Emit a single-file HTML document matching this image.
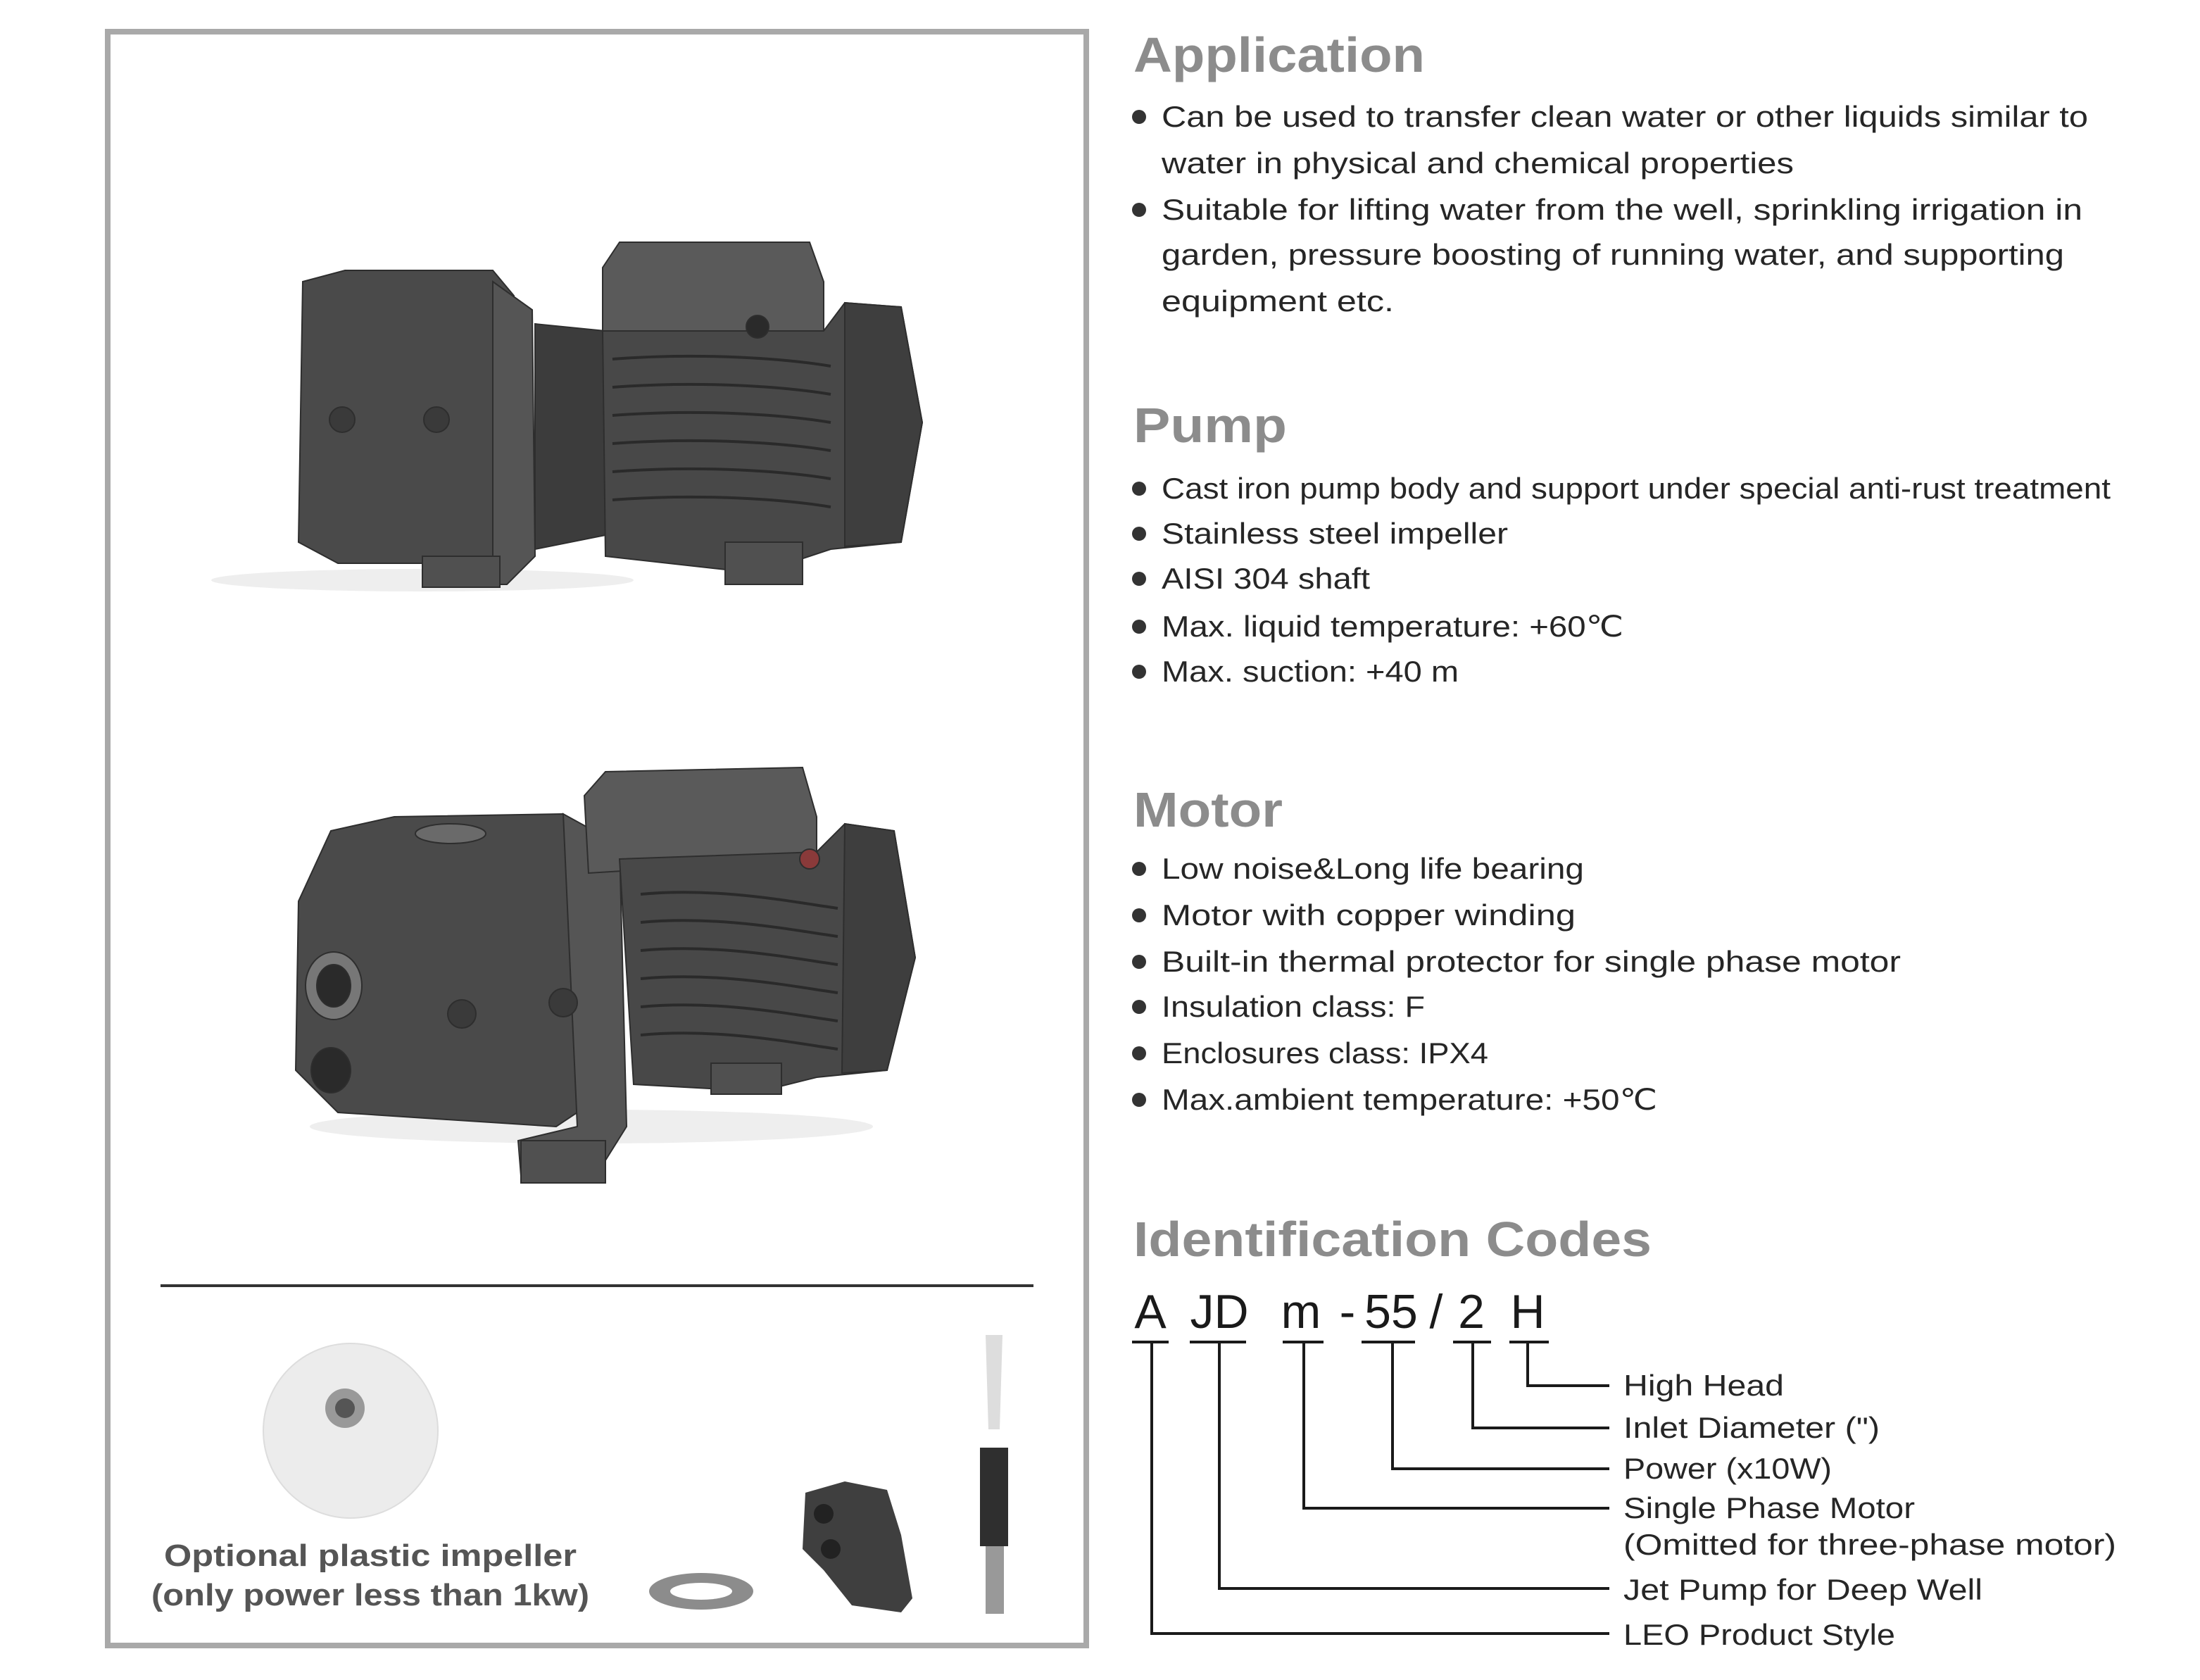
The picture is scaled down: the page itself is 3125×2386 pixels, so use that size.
<!DOCTYPE html>
<html><head><meta charset="utf-8"><style>
html,body{margin:0;padding:0;background:#fff;}
svg{display:block;}
text{font-family:"Liberation Sans",sans-serif;}
.h{fill:#8c8c8c;font-size:35px;font-weight:bold;}
.b{fill:#262626;font-size:21px;}
.l{fill:#262626;font-size:21px;}
.c{fill:#1a1a1a;font-size:34px;}
</style></head><body>
<svg width="3125" height="2386" viewBox="0 0 1562.5 1193" xmlns="http://www.w3.org/2000/svg">
<rect x="0" y="0" width="1562.5" height="1193" fill="#fff"/>
<!-- frame -->
<rect x="76.5" y="22.5" width="695" height="1146" fill="#fff" stroke="#a9a9a9" stroke-width="4"/>
<line x1="114" y1="913" x2="734" y2="913" stroke="#333" stroke-width="2"/>

<!-- pump 1 -->
<g fill="#4a4a4a" stroke="#2e2e2e" stroke-width="1">
<ellipse cx="300" cy="412" rx="150" ry="8" fill="#eee" stroke="none"/>
<path d="M215,200 L245,192 L350,192 L365,210 L370,390 L355,400 L240,400 L212,385 Z"/>
<path d="M350,200 L378,220 L380,395 L360,415 L300,415 L300,400 L350,398 Z" fill="#555"/>
<path d="M380,230 L430,235 L430,380 L380,390 Z" fill="#3c3c3c"/>
<path d="M428,190 L440,172 L575,172 L585,200 L585,235 L428,240 Z" fill="#5a5a5a"/>
<path d="M428,235 L585,235 L600,215 L640,218 L655,300 L640,385 L590,390 L560,400 L520,405 L430,395 Z" fill="#484848"/>
<path d="M600,215 L640,218 L655,300 L640,385 L600,388 Z" fill="#3e3e3e"/>
<rect x="515" y="385" width="55" height="30" fill="#505050"/>
<rect x="300" y="395" width="55" height="22" fill="#505050"/>
<g stroke="#2a2a2a" stroke-width="2" fill="none">
<path d="M435,255 C500,250 560,255 590,260"/><path d="M435,275 C500,270 560,275 590,280"/><path d="M435,295 C500,290 560,295 590,300"/><path d="M435,315 C500,310 560,315 590,320"/><path d="M435,335 C500,330 560,335 590,340"/><path d="M435,355 C500,350 560,355 590,360"/>
</g>
<circle cx="538" cy="232" r="8" fill="#2a2a2a"/>
<circle cx="243" cy="298" r="9" fill="#3a3a3a"/><circle cx="310" cy="298" r="9" fill="#3a3a3a"/>
</g>

<!-- pump 2 -->
<g fill="#4a4a4a" stroke="#2e2e2e" stroke-width="1">
<ellipse cx="420" cy="800" rx="200" ry="12" fill="#eee" stroke="none"/>
<path d="M235,590 L280,580 L400,578 L420,610 L425,780 L395,800 L240,790 L210,760 L212,640 Z"/>
<path d="M400,578 L440,600 L445,800 L420,840 L370,835 L368,810 L410,800 Z" fill="#555"/>
<path d="M415,565 L430,548 L570,545 L580,580 L580,610 L418,620 Z" fill="#5a5a5a"/>
<path d="M440,610 L580,605 L600,585 L635,590 L650,680 L630,760 L580,765 L540,775 L450,770 Z" fill="#484848"/>
<path d="M600,585 L635,590 L650,680 L630,760 L598,762 Z" fill="#3e3e3e"/>
<rect x="505" y="755" width="50" height="22" fill="#505050"/>
<rect x="370" y="810" width="60" height="30" fill="#505050"/>
<g stroke="#2a2a2a" stroke-width="2" fill="none">
<path d="M455,635 C510,630 560,640 595,645"/><path d="M455,655 C510,650 560,660 595,665"/><path d="M455,675 C510,670 560,680 595,685"/><path d="M455,695 C510,690 560,700 595,705"/><path d="M455,715 C510,710 560,720 595,725"/><path d="M455,735 C510,730 560,740 595,745"/>
</g>
<ellipse cx="237" cy="700" rx="20" ry="24" fill="#777"/><ellipse cx="237" cy="700" rx="12" ry="15" fill="#2a2a2a"/>
<ellipse cx="235" cy="760" rx="14" ry="16" fill="#2a2a2a"/>
<circle cx="328" cy="720" r="10" fill="#3a3a3a"/><circle cx="400" cy="712" r="10" fill="#3a3a3a"/>
<circle cx="575" cy="610" r="7" fill="#8a3a3a"/>
<ellipse cx="320" cy="592" rx="25" ry="7" fill="#6a6a6a"/>
</g>

<!-- accessories -->
<circle cx="249" cy="1016" r="62" fill="#ececec" stroke="#ddd"/>
<circle cx="245" cy="1000" r="14" fill="#999"/><circle cx="245" cy="1000" r="7" fill="#555"/>
<text x="263" y="1112" text-anchor="middle" style="font-size:22px;fill:#555;font-weight:bold" textLength="293" lengthAdjust="spacingAndGlyphs">Optional plastic impeller</text>
<text x="263" y="1140" text-anchor="middle" style="font-size:22px;fill:#555;font-weight:bold" textLength="311" lengthAdjust="spacingAndGlyphs">(only power less than 1kw)</text>
<ellipse cx="498" cy="1130" rx="37" ry="13" fill="#8c8c8c"/><ellipse cx="498" cy="1130" rx="22" ry="6" fill="#fff"/>
<path d="M572,1060 L600,1052 L630,1058 L640,1090 L648,1135 L640,1145 L605,1140 L585,1115 L570,1100 Z" fill="#3f3f3f"/>
<circle cx="585" cy="1075" r="7" fill="#222"/><circle cx="590" cy="1100" r="7" fill="#222"/>
<path d="M700,948 L712,948 L710,1015 L702,1015 Z" fill="#ddd"/>
<rect x="696" y="1028" width="20" height="70" fill="#2f2f2f"/>
<rect x="700" y="1098" width="13" height="48" fill="#999"/>

<!-- right text -->
<text class="h" x="805" y="51" textLength="207" lengthAdjust="spacingAndGlyphs">Application</text>
<g fill="#333"><circle cx="809" cy="83" r="5"/><circle cx="809" cy="149" r="5"/></g>
<text class="b" x="825" y="90" textLength="658" lengthAdjust="spacingAndGlyphs">Can be used to transfer clean water or other liquids similar to</text>
<text class="b" x="825" y="123" textLength="449" lengthAdjust="spacingAndGlyphs">water in physical and chemical properties</text>
<text class="b" x="825" y="156" textLength="654" lengthAdjust="spacingAndGlyphs">Suitable for lifting water from the well, sprinkling irrigation in</text>
<text class="b" x="825" y="188" textLength="641" lengthAdjust="spacingAndGlyphs">garden, pressure boosting of running water, and supporting</text>
<text class="b" x="825" y="221" textLength="165" lengthAdjust="spacingAndGlyphs">equipment etc.</text>

<text class="h" x="805" y="314" textLength="109" lengthAdjust="spacingAndGlyphs">Pump</text>
<g fill="#333"><circle cx="809" cy="347" r="5"/><circle cx="809" cy="379" r="5"/><circle cx="809" cy="411" r="5"/><circle cx="809" cy="445" r="5"/><circle cx="809" cy="477" r="5"/></g>
<text class="b" x="825" y="354" textLength="674" lengthAdjust="spacingAndGlyphs">Cast iron pump body and support under special anti-rust treatment</text>
<text class="b" x="825" y="386" textLength="246" lengthAdjust="spacingAndGlyphs">Stainless steel impeller</text>
<text class="b" x="825" y="418" textLength="148" lengthAdjust="spacingAndGlyphs">AISI 304 shaft</text>
<text class="b" x="825" y="452" textLength="328" lengthAdjust="spacingAndGlyphs">Max. liquid temperature: +60℃</text>
<text class="b" x="825" y="484" textLength="211" lengthAdjust="spacingAndGlyphs">Max. suction: +40 m</text>

<text class="h" x="805" y="587" textLength="106" lengthAdjust="spacingAndGlyphs">Motor</text>
<g fill="#333"><circle cx="809" cy="617" r="5"/><circle cx="809" cy="650" r="5"/><circle cx="809" cy="683" r="5"/><circle cx="809" cy="715" r="5"/><circle cx="809" cy="748" r="5"/><circle cx="809" cy="781" r="5"/></g>
<text class="b" x="825" y="624" textLength="300" lengthAdjust="spacingAndGlyphs">Low noise&amp;Long life bearing</text>
<text class="b" x="825" y="657" textLength="294" lengthAdjust="spacingAndGlyphs">Motor with copper winding</text>
<text class="b" x="825" y="690" textLength="525" lengthAdjust="spacingAndGlyphs">Built-in thermal protector for single phase motor</text>
<text class="b" x="825" y="722" textLength="187" lengthAdjust="spacingAndGlyphs">Insulation class: F</text>
<text class="b" x="825" y="755" textLength="232" lengthAdjust="spacingAndGlyphs">Enclosures class: IPX4</text>
<text class="b" x="825" y="788" textLength="352" lengthAdjust="spacingAndGlyphs">Max.ambient temperature: +50℃</text>

<text class="h" x="805" y="892" textLength="368" lengthAdjust="spacingAndGlyphs">Identification Codes</text>
<g class="c" text-anchor="middle">
<text class="c" x="817" y="943">A</text>
<text class="c" x="866" y="943">JD</text>
<text class="c" x="924" y="943">m</text>
<text class="c" x="957" y="943">-</text>
<text class="c" x="988" y="943">55</text>
<text class="c" x="1020" y="943">/</text>
<text class="c" x="1045" y="943">2</text>
<text class="c" x="1085" y="943">H</text>
</g>
<g stroke="#1a1a1a" stroke-width="2" fill="none">
<path d="M804,953 H830 M845,953 H885 M911,953 H940 M967,953 H1005 M1032,953 H1059 M1072,953 H1100"/>
<path d="M1085,953 V984 H1143"/>
<path d="M1046,953 V1014 H1143"/>
<path d="M989,953 V1043 H1143"/>
<path d="M926,953 V1071 H1143"/>
<path d="M866,953 V1128 H1143"/>
<path d="M818,953 V1160 H1143"/>
</g>
<text class="l" x="1153" y="991" textLength="114" lengthAdjust="spacingAndGlyphs">High Head</text>
<text class="l" x="1153" y="1021" textLength="182" lengthAdjust="spacingAndGlyphs">Inlet Diameter (")</text>
<text class="l" x="1153" y="1050" textLength="148" lengthAdjust="spacingAndGlyphs">Power (x10W)</text>
<text class="l" x="1153" y="1078" textLength="207" lengthAdjust="spacingAndGlyphs">Single Phase Motor</text>
<text class="l" x="1153" y="1104" textLength="350" lengthAdjust="spacingAndGlyphs">(Omitted for three-phase motor)</text>
<text class="l" x="1153" y="1136" textLength="255" lengthAdjust="spacingAndGlyphs">Jet Pump for Deep Well</text>
<text class="l" x="1153" y="1168" textLength="193" lengthAdjust="spacingAndGlyphs">LEO Product Style</text>
</svg>
</body></html>
